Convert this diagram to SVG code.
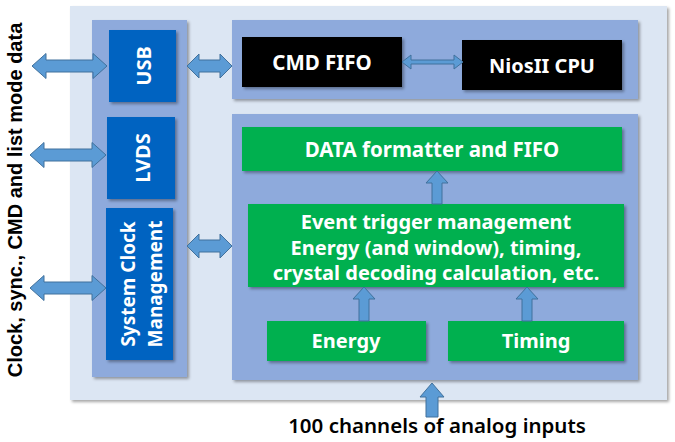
<svg xmlns="http://www.w3.org/2000/svg" width="675" height="442" viewBox="0 0 675 442">
<defs>
<filter id="sh" x="-10%" y="-10%" width="130%" height="130%">
<feDropShadow dx="2" dy="2" stdDeviation="1.5" flood-color="#000" flood-opacity="0.35"/>
</filter>
</defs>
<style>
.outer{fill:#dce6f3;}
.panel{fill:#8eaadc;}
.blue{fill:#0563c1;}
.green{fill:#00b050;}
.black{fill:#000;}
.arr{fill:#5b9bd5;stroke:#41719c;stroke-width:1;stroke-linejoin:miter;}
.t{font-family:"Noto Sans","Open Sans","Liberation Sans",sans-serif;font-weight:bold;fill:#fff;text-anchor:middle;}
.lbl{font-family:"Liberation Sans",Arial,sans-serif;font-weight:bold;fill:#000;text-anchor:middle;}
.in{font-family:"Noto Sans","Open Sans",sans-serif;font-weight:600;fill:#000;text-anchor:middle;}
</style>
<rect x="0" y="0" width="675" height="442" fill="#fff"/>
<rect class="outer" x="70" y="6" width="597" height="394" filter="url(#sh)"/>
<g id="left-panel"><rect class="panel" x="92" y="20" width="95" height="357" filter="url(#sh)"/></g>
<g id="top-panel"><rect class="panel" x="232" y="20" width="406" height="79" filter="url(#sh)"/></g>
<g id="bottom-panel"><rect class="panel" x="232" y="114" width="406" height="266" filter="url(#sh)"/></g>

<g id="usb"><rect class="blue" x="109" y="30" width="67" height="72" filter="url(#sh)"/>
<text class="t" font-size="20" transform="translate(151,66) rotate(-90)">USB</text></g>
<g id="lvds"><rect class="blue" x="107" y="117" width="68" height="82" filter="url(#sh)"/>
<text class="t" font-size="20" transform="translate(150,158) rotate(-90)">LVDS</text></g>
<g id="sysclk"><rect class="blue" x="106" y="208" width="67" height="152" filter="url(#sh)"/>
<text class="t" font-size="19" transform="translate(135,284) rotate(-90)">System Clock</text>
<text class="t" font-size="19" transform="translate(162,284) rotate(-90)">Management</text></g>

<g id="cmdfifo"><rect class="black" x="242" y="37" width="160" height="50" filter="url(#sh)"/>
<text class="t" font-size="20.5" x="322" y="70">CMD FIFO</text></g>
<g id="nios"><rect class="black" x="462" y="40" width="160" height="50" filter="url(#sh)"/>
<text class="t" font-size="20" x="542" y="73">NiosII CPU</text></g>

<g id="dataformatter"><rect class="green" x="242" y="127" width="380" height="44" filter="url(#sh)"/>
<text class="t" font-size="20.5" x="432" y="157">DATA formatter and FIFO</text></g>
<g id="eventtrigger"><rect class="green" x="248" y="204" width="376" height="83" filter="url(#sh)"/>
<text class="t" font-size="20" x="436" y="229">Event trigger management</text>
<text class="t" font-size="20" x="436" y="255">Energy (and window), timing,</text>
<text class="t" font-size="20" x="436" y="280">crystal decoding calculation, etc.</text></g>
<g id="energy"><rect class="green" x="267" y="321" width="159" height="40" filter="url(#sh)"/>
<text class="t" font-size="20" x="346" y="348">Energy</text></g>
<g id="timing"><rect class="green" x="448" y="321" width="176" height="40" filter="url(#sh)"/>
<text class="t" font-size="20" x="536" y="348">Timing</text></g>

<g id="connectors">
<path class="arr" d="M32,66 L46,53.5 L46,60 L93,60 L93,53.5 L107,66 L93,78.5 L93,72 L46,72 L46,78.5 Z"/>
<path class="arr" d="M30,155 L44,142.5 L44,149 L92,149 L92,142.5 L106,155 L92,167.5 L92,161 L44,161 L44,167.5 Z"/>
<path class="arr" d="M30,288 L44,275.5 L44,282 L92,282 L92,275.5 L106,288 L92,300.5 L92,294 L44,294 L44,300.5 Z"/>
<path class="arr" d="M187,66 L199,54 L199,60 L220,60 L220,54 L232,66 L220,78 L220,72 L199,72 L199,78 Z"/>
<path class="arr" d="M187,246 L199,234 L199,240 L220,240 L220,234 L232,246 L220,258 L220,252 L199,252 L199,258 Z"/>
<path class="arr" d="M402,62 L411,55 L411,60 L454,60 L454,55 L463,62 L454,69 L454,64 L411,64 L411,69 Z"/>
<path class="arr" d="M437,171 L448,183 L442,183 L442,204 L432,204 L432,183 L426,183 Z"/>
<path class="arr" d="M364,287 L375,299 L369,299 L369,321 L359,321 L359,299 L353,299 Z"/>
<path class="arr" d="M527,287 L538,299 L532,299 L532,321 L522,321 L522,299 L516,299 Z"/>
<path class="arr" d="M432,383 L444,397 L438,397 L438,417 L426,417 L426,397 L420,397 Z"/>
</g>

<text class="lbl" font-size="20" transform="translate(22,200) rotate(-90)">Clock, sync., CMD and list mode data</text>
<text class="in" font-size="20.5" x="437" y="433">100 channels of analog inputs</text>
</svg>
